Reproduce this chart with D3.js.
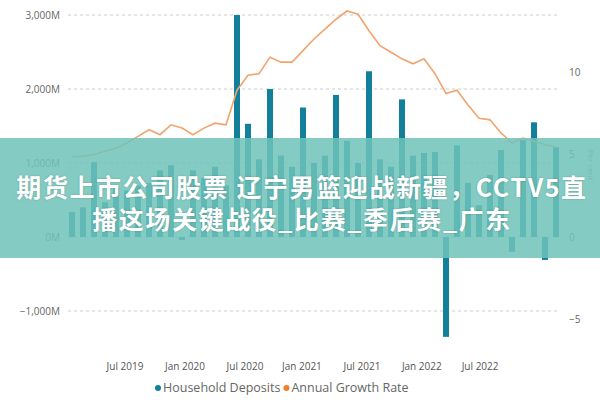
<!DOCTYPE html>
<html><head><meta charset="utf-8">
<script src="https://cdn.jsdelivr.net/npm/d3@7"></script>
<style>body{margin:0;background:#fff}svg{display:block}</style>
</head><body><svg id="c" width="600" height="400"></svg>
<script>
// bar index 0..44
const deposits = [340,400,1010,470,660,630,700,730,900,970,-40,900,800,950,700,3000,1530,1050,2000,1100,950,1750,1000,1100,1920,1300,1000,2240,1050,950,1860,1100,1135,1150,-1350,1240,730,430,840,1175,-200,1310,1550,-310,1215];
const growth = [4.85,4.9,5.0,5.2,5.4,5.7,6.1,6.5,6.2,6.8,6.6,6.2,6.6,6.9,6.8,8.9,9.8,9.9,10.9,10.6,10.6,11.3,12.0,12.6,13.2,13.7,13.5,12.5,11.6,11.2,10.8,10.5,10.8,9.9,8.7,8.9,8.0,7.2,7.1,6.3,5.7,6.0,5.8,5.6,5.45];
const leftTicks = [-1000,0,1000,2000,3000];
const rightTicks = [-5,0,5,10];
const xTickPos = [4.82,10.27,15.73,20.9,26.36,31.8,37.1];
const xTickLabels = ["Jul 2019","Jan 2020","Jul 2020","Jan 2021","Jul 2021","Jan 2022","Jul 2022"];
const seriesNames = ["Household Deposits","Annual Growth Rate"];
const bannerLines = ["期货上市公司股票 辽宁男篮迎战新疆，CCTV5直","播这场关键战役_比赛_季后赛_广东"];

const svg = d3.select("#c");
const font = "'Open Sans', sans-serif";
const x = d3.scaleLinear().domain([0,44]).range([72,556]);
const bw = 6;
const yL = d3.scaleLinear().domain([-1460,3068]).range([345,10]);
const yR = d3.scaleLinear().domain([-6.55,13.76]).range([345,10]);

svg.append("g").selectAll("line").data(leftTicks).join("line")
 .attr("x1",68).attr("x2",560).attr("y1",d=>yL(d)).attr("y2",d=>yL(d))
 .attr("stroke","#ccc").attr("stroke-dasharray","3,3");
const la = svg.append("g").attr("transform","translate(63,0)").call(d3.axisLeft(yL).tickValues(leftTicks).tickSize(0).tickFormat(d=>d3.format(",")(d)+"M"));
la.select(".domain").remove();
la.selectAll("text").attr("fill","#666").attr("font-size",10).attr("font-family",font);
const ra = svg.append("g").attr("transform","translate(566,0)").call(d3.axisRight(yR).tickValues(rightTicks).tickSize(0));
ra.select(".domain").remove();
ra.selectAll("text").attr("fill","#666").attr("font-size",10).attr("font-family",font);
svg.append("text").attr("transform","translate(588,165) rotate(90)").attr("text-anchor","middle")
 .attr("font-size",8).attr("fill","#888").attr("font-family",font).text("Per cent");

svg.append("g").selectAll("rect").data(deposits).join("rect")
 .attr("x",(d,i)=>x(i)-bw/2).attr("width",bw)
 .attr("y",d=>yL(Math.max(0,d))).attr("height",d=>Math.abs(yL(d)-yL(0)))
 .attr("fill","#12809a");
svg.append("path").datum(growth).attr("fill","none").attr("stroke","#f2a46e").attr("stroke-width",1.6)
 .attr("d",d3.line().x((d,i)=>x(i)).y(d=>yR(d)));

svg.append("g").selectAll("text").data(xTickPos).join("text")
 .attr("x",d=>x(d)).attr("y",370).attr("text-anchor","middle").attr("font-size",10)
 .attr("fill","#555").attr("font-family",font).text((d,i)=>xTickLabels[i]);
const lg = svg.append("g");
const lcol = ["#12809a","#f07f2a"];
let lx = 158;
seriesNames.forEach((n,i)=>{
  lg.append("circle").attr("cx",lx).attr("cy",388).attr("r",3).attr("fill",lcol[i]);
  const t = lg.append("text").attr("x",lx+5).attr("y",392).attr("font-size",12.5).attr("fill","#666").attr("font-family",font).text(n);
  lx += t.node().getComputedTextLength()+11;
});

svg.append("rect").attr("x",0).attr("y",138).attr("width",600).attr("height",120).attr("fill","rgb(110,195,185)").attr("opacity",0.85);
svg.append("g").selectAll("text").data(bannerLines).join("text")
 .attr("x",302).attr("y",(d,i)=>197+i*32).attr("text-anchor","middle")
 .attr("font-size",25).attr("font-weight","bold").attr("fill","#fff").attr("letter-spacing",1.6)
 .attr("font-family","'Noto Sans CJK SC', sans-serif")
 .style("text-shadow","0 0 2px rgba(0,0,0,0.25)")
 .text(d=>d);
</script></body></html>
